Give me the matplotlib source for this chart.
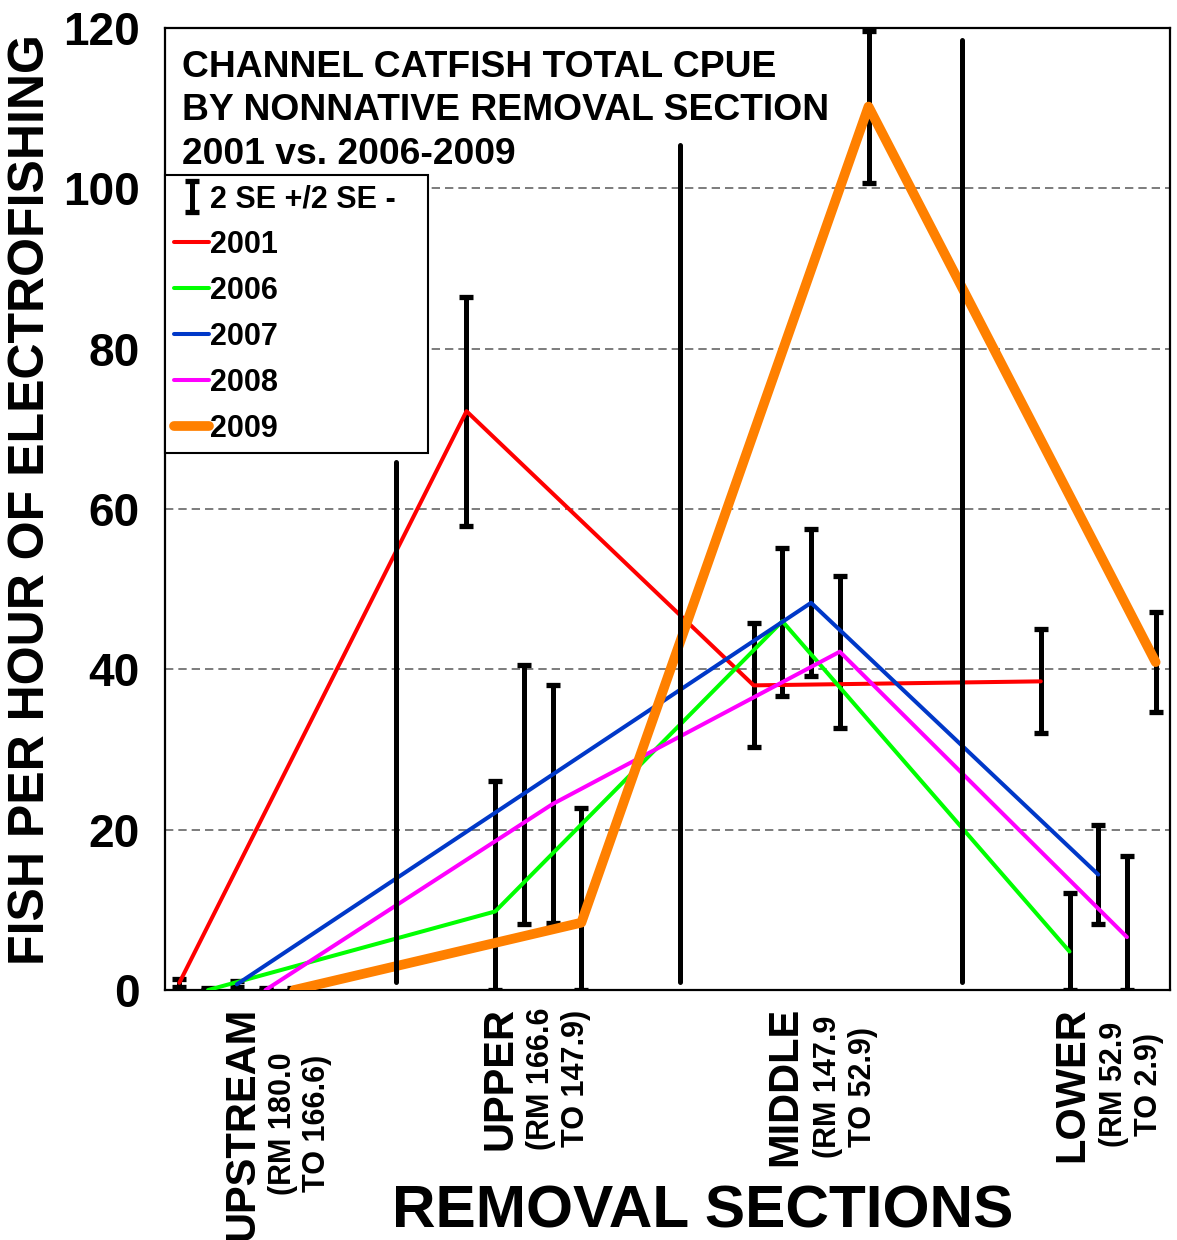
import matplotlib
matplotlib.use('Agg')
import matplotlib.pyplot as plt
import numpy as np
from matplotlib.transforms import blended_transform_factory

plt.rcParams['font.family'] = ['Liberation Sans', 'DejaVu Sans']
plt.rcParams['font.weight'] = 'bold'

# data
sections = ['UPSTREAM', 'UPPER', 'MIDDLE', 'LOWER']
section_rm = ['(RM 180.0\nTO 166.6)', '(RM 166.6\nTO 147.9)',
              '(RM 147.9\nTO 52.9)', '(RM 52.9\nTO 2.9)']
years = ['2001', '2006', '2007', '2008', '2009']

cpue_2001 = [0.9, 72.2, 38.0, 38.5]
cpue_2006 = [0.0, 9.8, 46.0, 4.8]
cpue_2007 = [0.7, 24.5, 48.3, 14.4]
cpue_2008 = [0.0, 23.2, 42.2, 6.6]
cpue_2009 = [0.0, 8.4, 110.2, 40.9]

# error bar ends (2 SE below / above)
lo_2001 = [0.4, 57.9, 30.3, 32.1]
hi_2001 = [1.4, 86.4, 45.8, 45.0]
lo_2006 = [0.0, 0.0, 36.7, 0.0]
hi_2006 = [0.2, 26.1, 55.1, 12.1]
lo_2007 = [0.4, 8.2, 39.2, 8.2]
hi_2007 = [1.1, 40.5, 57.5, 20.6]
lo_2008 = [0.0, 8.3, 32.7, 0.0]
hi_2008 = [0.2, 38.0, 51.6, 16.7]
lo_2009 = [0.0, 0.0, 100.7, 34.7]
hi_2009 = [0.2, 22.7, 119.6, 47.1]

# section divider bars
divider_x = [7.55, 17.45, 27.25]
divider_lo = [1.0, 1.0, 1.0]
divider_hi = [65.9, 105.4, 118.5]

title_lines = ['CHANNEL CATFISH TOTAL CPUE', 'BY NONNATIVE REMOVAL SECTION',
               '2001 vs. 2006-2009']

cpue = [cpue_2001, cpue_2006, cpue_2007, cpue_2008, cpue_2009]
lows = [lo_2001, lo_2006, lo_2007, lo_2008, lo_2009]
highs = [hi_2001, hi_2006, hi_2007, hi_2008, hi_2009]
colors = ['#FF0000', '#00FF00', '#0038C8', '#FF00FF', '#FF8000']
widths = [2.9, 2.9, 2.9, 2.9, 7.0]

fig = plt.figure(figsize=(11.77, 12.4), dpi=100)
ax = fig.add_axes([165/1177, 1 - 990/1240, 1005/1177, 962/1240])

eb_handle = None
for j in range(5):
    xs = np.arange(4) * 10 + j
    v = np.array(cpue[j])
    err = [v - np.array(lows[j]), np.array(highs[j]) - v]
    eb = ax.errorbar(xs, v, yerr=err, fmt='none', ecolor='k', elinewidth=3.6,
                     capsize=5, capthick=3.8, zorder=2)
    if eb_handle is None:
        eb_handle = eb

line_handles = []
for j in range(5):
    xs = np.arange(4) * 10 + j
    ln, = ax.plot(xs, cpue[j], color=colors[j], lw=widths[j],
                  solid_capstyle='round', solid_joinstyle='round', zorder=3)
    line_handles.append(ln)

ax.vlines(divider_x, divider_lo, divider_hi, colors='k', lw=3.6, zorder=4,
          capstyle='round')

ax.set_xlim(-0.5, 34.5)
ax.set_ylim(0, 120)
ax.set_xticks([])
ax.set_yticks(np.arange(0, 121, 20))
ax.tick_params(axis='y', length=0, pad=18, labelsize=33)
ax.yaxis.grid(True, ls=(0, (5, 3)), color='#666666', lw=1.2)
ax.set_axisbelow(True)
for s in ax.spines.values():
    s.set_linewidth(1.6)

for k, t in enumerate(title_lines):
    ax.text(0.017, (990 - (77 + 43.5 * k)) / 962, t, transform=ax.transAxes,
            fontsize=26.8, ha='left', va='baseline')

leg = ax.legend([eb_handle] + line_handles, ['2 SE +/2 SE -'] + years,
                loc='upper left',
                bbox_to_anchor=(0, (990 - 175) / 962, 263 / 1005, 0),
                mode='expand', borderaxespad=0, fontsize=22, frameon=True,
                fancybox=False, edgecolor='k', framealpha=1,
                handlelength=1.15, handletextpad=0.02, labelspacing=0.52,
                borderpad=0.3)
leg.get_frame().set_linewidth(1.5)
leg.set_zorder(10)

# section labels
trans = blended_transform_factory(ax.transData, ax.transAxes)
big_x = [2.2, 11.2, 21.1, 31.1]
small_x = [4.2, 13.2, 23.2, 33.15]
big_texts = []
for i, name in enumerate(sections):
    t = ax.text(big_x[i], -17 / 962, name, transform=trans, rotation=90,
                ha='center', va='top', fontsize=30)
    big_texts.append(t)
fig.canvas.draw()
for i, t in enumerate(big_texts):
    bb = t.get_window_extent()
    cy = ax.transAxes.inverted().transform((0, (bb.y0 + bb.y1) / 2))[1]
    ax.text(small_x[i], cy, section_rm[i], transform=trans, rotation=90,
            ha='center', va='center', multialignment='center', fontsize=22)

fig.text(31 / 1177, 1 - 500 / 1240, 'FISH PER HOUR OF ELECTROFISHING',
         rotation=90, ha='center', va='center', fontsize=36)
fig.text(703 / 1177, 1 - 1228 / 1240, 'REMOVAL SECTIONS', ha='center',
         va='baseline', fontsize=43.5)

fig.savefig('out.png', dpi=100)
